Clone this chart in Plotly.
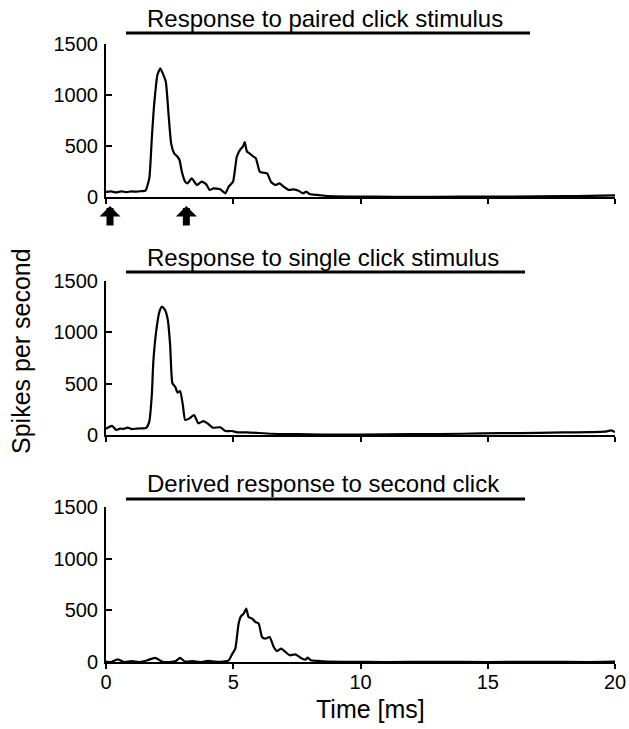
import plotly.graph_objects as go

# ---------------- data ----------------
panel_titles = ["Response to paired click stimulus",
                "Response to single click stimulus",
                "Derived response to second click"]

t_paired = [0, 0.2, 0.4, 0.6, 0.8, 1.0, 1.2, 1.4, 1.55, 1.70, 1.80, 1.89, 2.02, 2.13,
            2.23, 2.35, 2.45, 2.56, 2.68, 2.81, 2.89, 2.98, 3.11, 3.20, 3.37, 3.57,
            3.76, 3.94, 4.07, 4.22, 4.49, 4.69, 4.82, 4.99, 5.14, 5.28, 5.38, 5.45,
            5.54, 5.64, 5.76, 5.89, 6.04, 6.19, 6.33, 6.48, 6.65, 6.82, 6.98, 7.18,
            7.37, 7.57, 7.74, 7.87, 8.00, 8.29, 8.7, 9.5, 10.5, 12, 14, 16, 18, 19, 20]
v_paired = [50, 55, 45, 55, 48, 55, 52, 58, 62, 183, 575, 900, 1196, 1261,
            1212, 1130, 836, 526, 428, 395, 363, 248, 150, 134, 183, 118,
            150, 124, 69, 85, 75, 36, 101, 150, 395, 467, 493, 539,
            444, 428, 402, 379, 248, 238, 232, 150, 118, 134, 101, 69,
            75, 62, 36, 52, 29, 20, 10, 5, 3, 2, 3, 5, 8, 12, 15]

t_single = [0, 0.1, 0.25, 0.4, 0.55, 0.7, 0.85, 1.0, 1.2, 1.4, 1.58, 1.70, 1.80, 1.86,
            1.97, 2.10, 2.20, 2.32, 2.43, 2.52, 2.61, 2.72, 2.81, 2.91, 3.02, 3.11,
            3.28, 3.46, 3.63, 3.83, 3.99, 4.20, 4.49, 4.69, 4.95, 5.15, 5.54, 6.5,
            7.5, 8.5, 10, 12, 14, 15.5, 17, 18, 19, 19.6, 19.85, 20]
v_single = [60, 75, 88, 50, 62, 60, 72, 58, 62, 65, 70, 130, 390, 714,
            1006, 1201, 1250, 1217, 1120, 877, 504, 470, 412, 428, 292, 146,
            162, 195, 114, 136, 114, 71, 75, 39, 39, 26, 26, 12,
            8, 5, 5, 8, 12, 18, 20, 25, 28, 32, 45, 30]

t_derived = [0, 0.2, 0.47, 0.7, 1.0, 1.3, 1.6, 1.93, 2.2, 2.5, 2.75, 2.91, 3.1, 3.4,
             3.7, 4.0, 4.3, 4.6, 4.82, 4.95, 5.08, 5.21, 5.30, 5.41, 5.51, 5.60,
             5.74, 5.87, 6.00, 6.13, 6.26, 6.43, 6.59, 6.72, 6.88, 7.05, 7.22, 7.44,
             7.64, 7.83, 7.93, 8.05, 8.3, 8.7, 9.5, 11, 13, 15, 17, 19, 20]
v_derived = [5, 0, 25, 0, 8, 0, 15, 40, 5, 0, 10, 40, 5, 8,
             0, 10, 3, 5, 16, 74, 129, 371, 442, 468, 517, 436,
             420, 387, 371, 242, 226, 242, 145, 106, 129, 97, 65, 74,
             42, 23, 42, 16, 10, 3, 2, 0, 2, 0, 2, 0, 3]

click_times = [0, 3]
x_ticks = [0, 5, 10, 15, 20]
y_ticks = [0, 500, 1000, 1500]
x_title = "Time [ms]"
y_title = "Spikes per second"

# ---------------- layout helpers ----------------
W, H = 629, 729
L, R = 106, 14
PW = W - L - R
FONT = "Liberation Sans, Arial, Helvetica, sans-serif"


def px_x(p):
    return (p - L) / PW


def px_y(p):
    return (H - p) / H


# pixel positions (y of value 0, y of value 1500) for each panel
panels = [(197, 44), (435, 281), (662, 507)]
title_y = [19, 257, 484]
bar_y = [33, 272, 499]
bar_x = [(126, 530), (126, 525), (126, 525)]

series = [(t_paired, v_paired), (t_single, v_single), (t_derived, v_derived)]

fig = go.Figure()
layout = dict(
    width=W, height=H, autosize=False,
    margin=dict(l=L, r=R, t=0, b=0, pad=0, autoexpand=False),
    paper_bgcolor="white", plot_bgcolor="white",
    showlegend=False,
    font=dict(family=FONT, color="black", size=20),
    annotations=[], shapes=[],
)

for i, ((t, v), (y0, y1)) in enumerate(zip(series, panels)):
    k = "" if i == 0 else str(i + 1)
    fig.add_trace(go.Scatter(x=t, y=v, mode="lines", xaxis="x" + k, yaxis="y" + k,
                             line=dict(color="black", width=2.2, shape="spline",
                                       smoothing=0.5),
                             hoverinfo="skip"))
    layout["xaxis" + k] = dict(
        domain=[0, 1], range=[0, 20], anchor="y" + k,
        showline=True, linecolor="black", linewidth=2,
        ticks="outside", ticklen=5, tickwidth=2, tickcolor="black",
        tickvals=x_ticks, showticklabels=(i == 2), ticklabelstandoff=-4,
        tickfont=dict(size=20, color="black", family=FONT),
        showgrid=False, zeroline=False, automargin=False,
    )
    layout["yaxis" + k] = dict(
        domain=[px_y(y0), px_y(y1)], range=[0, 1500], anchor="x" + k,
        showline=True, linecolor="black", linewidth=2,
        ticks="inside", ticklen=6, tickwidth=2, tickcolor="black",
        tickvals=y_ticks, ticklabelstandoff=2,
        tickfont=dict(size=20, color="black", family=FONT),
        showgrid=False, zeroline=False, automargin=False,
    )
    layout["annotations"].append(dict(
        text=panel_titles[i], xref="paper", yref="paper",
        x=px_x(145), y=px_y(title_y[i]), xanchor="left", yanchor="middle",
        showarrow=False, font=dict(size=24, color="black", family=FONT)))
    layout["shapes"].append(dict(
        type="line", xref="paper", yref="paper",
        x0=px_x(bar_x[i][0]), x1=px_x(bar_x[i][1]),
        y0=px_y(bar_y[i]), y1=px_y(bar_y[i]),
        line=dict(color="black", width=3)))

# stimulus arrows under the top panel
for ct in click_times:
    layout["annotations"].append(dict(
        text="", xref="x", yref="paper", x=ct, y=px_y(206),
        ax=0, ay=21, showarrow=True, arrowhead=1, arrowwidth=7, arrowsize=0.5,
        arrowcolor="black", standoff=0, startstandoff=0, xshift=4))

# axis titles
layout["annotations"].append(dict(
    text=x_title, xref="paper", yref="paper", x=px_x(370), y=px_y(709),
    xanchor="center", yanchor="middle", showarrow=False,
    font=dict(size=25, color="black", family=FONT)))
layout["annotations"].append(dict(
    text=y_title, xref="paper", yref="paper", x=px_x(21), y=px_y(351),
    xanchor="center", yanchor="middle", textangle=-90, showarrow=False,
    font=dict(size=25, color="black", family=FONT)))

fig.update_layout(**layout)
fig.write_html("out.html", config={"displayModeBar": False},
               post_script="document.body.style.margin='0';document.body.style.padding='0';")
